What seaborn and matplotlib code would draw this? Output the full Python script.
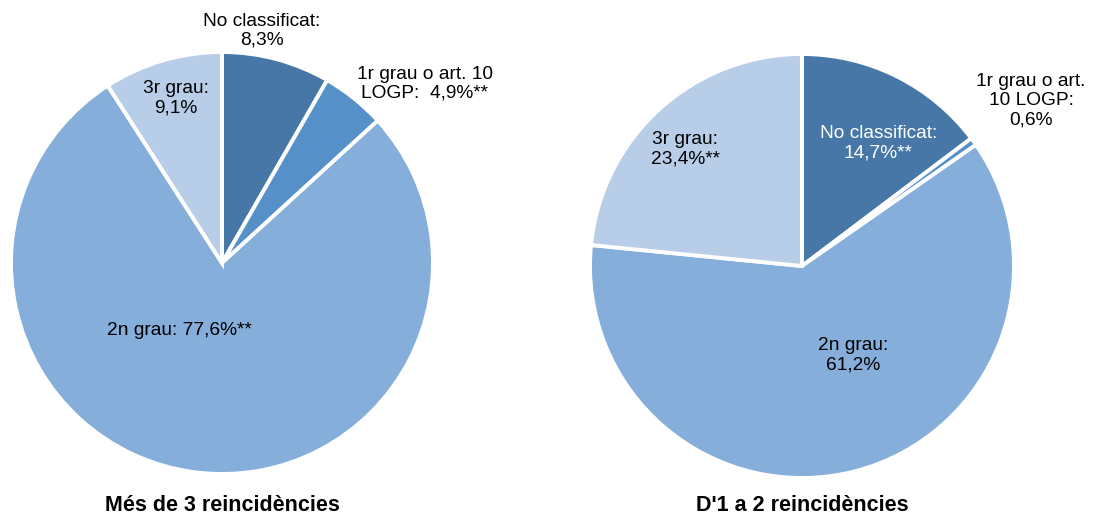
import matplotlib
matplotlib.use("Agg")
import matplotlib.pyplot as plt
import seaborn as sns

# Share of cases by disability grade, two groups of reoffending
categories = ['No classificat', '1r grau o art. 10 LOGP', '2n grau', '3r grau']
mes_de_3 = [8.3, 4.9, 77.6, 9.1]
d1_a_2 = [14.7, 0.6, 61.2, 23.4]

labels_mes_de_3 = ['No classificat:\n8,3%', '1r grau o art. 10\nLOGP:  4,9%**',
                   '2n grau: 77,6%**', '3r grau:\n9,1%']
labels_d1_a_2 = ['No classificat:\n14,7%**', '1r grau o art.\n10 LOGP:\n0,6%',
                 '2n grau:\n61,2%', '3r grau:\n23,4%**']

titles = ['Més de 3 reincidències', "D'1 a 2 reincidències"]
colors = ['#4677A6', '#5590C8', '#85AEDB', '#B8CDE7']

sns.set_theme(style="white")
plt.rcParams['font.family'] = ['Liberation Sans', 'DejaVu Sans']

fig = plt.figure(figsize=(10.98, 5.17), dpi=100)
W, H = 1098, 517

# pie axes placed by pixel (left, bottom, size)
ax1 = fig.add_axes([11 / W, 43 / H, 422 / W, 422 / H])
ax2 = fig.add_axes([590 / W, 39 / H, 424 / W, 424 / H])


def draw_pie(ax, values, labels, label_pos, label_colors, title, title_y):
    ax.pie(values, colors=colors, startangle=90, counterclock=False,
           radius=1, wedgeprops=dict(edgecolor='white', linewidth=2.8))
    ax.set_xlim(-1, 1)
    ax.set_ylim(-1, 1)
    ax.set_aspect('equal')
    ax.axis('off')
    for lab, (x, y), c in zip(labels, label_pos, label_colors):
        ax.text(x, y, lab, ha='center', va='center', fontsize=13.8,
                color=c, linespacing=1.15, clip_on=False)
    ax.text(0, title_y, title, ha='center', va='center', fontsize=15.5,
            fontweight='bold', color='black', clip_on=False)


draw_pie(ax1, mes_de_3, labels_mes_de_3,
         [(0.19, 1.10), (0.96, 0.85), (-0.20, -0.32), (-0.22, 0.78)],
         ['black', 'black', 'black', 'black'], titles[0], -1.15)
draw_pie(ax2, d1_a_2, labels_d1_a_2,
         [(0.36, 0.58), (1.08, 0.78), (0.24, -0.42), (-0.55, 0.55)],
         ['white', 'black', 'black', 'black'], titles[1], -1.13)

fig.savefig('out.png', dpi=100)
